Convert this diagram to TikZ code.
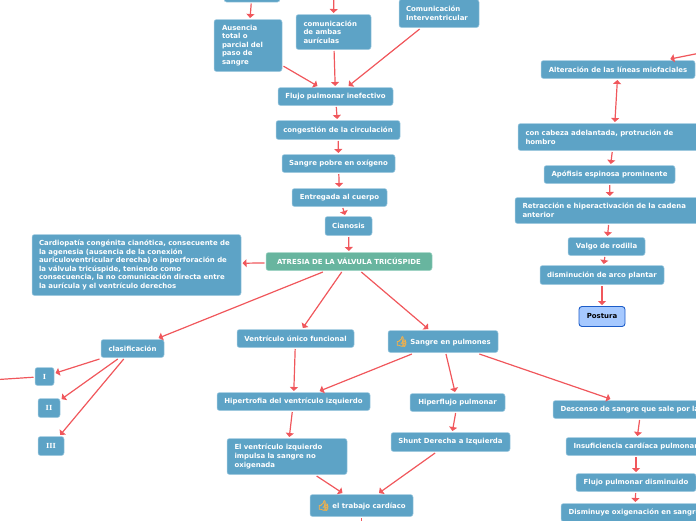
\documentclass[tikz,border=0pt]{standalone}
\usepackage{fontspec}
\setsansfont{DejaVu Sans}
\newfontfamily\emojifont[FakeBold=4]{Noto Emoji}
\newfontfamily\romfont{DejaVu Serif}
\usetikzlibrary{arrows.meta}
\definecolor{boxblue}{HTML}{5DA3C6}
\definecolor{boxedge}{HTML}{A5CDE2}
\definecolor{boxteal}{HTML}{68B59F}
\definecolor{tealedge}{HTML}{A3D6C7}
\definecolor{linkred}{HTML}{F0575C}
\definecolor{thumbcol}{HTML}{EDB04F}
\definecolor{finalblue}{HTML}{A6C9FF}
\definecolor{finaledge}{HTML}{1C5CC8}
\tikzset{
	sz/.style 2 args={minimum width=#1pt, minimum height=#2pt},
	mapbox/.style={rectangle, rounded corners=2.5pt, fill=boxblue, draw=boxedge, line width=0.5pt,
		text=white, inner sep=0pt, outer sep=1.5pt, align=left,
		font=\sffamily\bfseries\fontsize{6.95}{8.6}\selectfont},
	romanbox/.style={mapbox, font=\romfont\bfseries\fontsize{6.95}{8.6}\selectfont},
	rootbox/.style={mapbox, fill=boxteal, draw=tealedge},
	finalbox/.style={mapbox, fill=finalblue, draw=finaledge, line width=0.9pt, rounded corners=3pt, text=black},
	link/.style={draw=linkred, line width=1.2pt, -{Triangle[width=8pt,length=4pt]}},
}
\newcommand{\thumb}{{\emojifont\fontsize{10}{10}\selectfont\textcolor{thumbcol}{👍}}\ }
\begin{document}
\begin{tikzpicture}[x=1pt, y=-1pt]
	\useasboundingbox (0,0) rectangle (696,520);

	% left column, upper part
	\node[mapbox, sz={56}{18}] (top) at (252,-7) {};
	\node[mapbox, sz={68}{52}, text width=52pt] (ausencia) at (248,45.5) {Ausencia\\total o\\parcial del\\paso de\\sangre};
	\node[mapbox, sz={75}{35}, text width=60pt] (ambas) at (333.5,32) {comunicación\\de ambas\\aurículas};
	\node[mapbox, sz={80}{28}, text width=66pt] (inter) at (439,13.5) {Comunicación\\Interventricular};
	\node[mapbox, sz={115}{18}] (flujo) at (335.5,96.5) {Flujo pulmonar inefectivo};
	\node[mapbox, sz={124}{19}] (congestion) at (338,130) {congestión de la circulación};
	\node[mapbox, sz={113}{18}] (pobre) at (338.5,163.5) {Sangre pobre en oxígeno};
	\node[mapbox, sz={95}{18}] (entregada) at (339.5,197.5) {Entregada al cuerpo};
	\node[mapbox, sz={47}{19}] (cianosis) at (348.5,226) {Cianosis};
	\node[rootbox, sz={166}{18}] (atresia) at (349,261.5) {ATRESIA DE LA VÁLVULA TRICÚSPIDE};
	\node[mapbox, sz={209}{61}, text width=195pt] (cardio) at (136.5,265) {Cardiopatía congénita cianótica, consecuente de\\la agenesia (ausencia de la conexión\\auriculoventricular derecha) o imperforación de\\la válvula tricúspide, teniendo como\\consecuencia, la no comunicación directa entre\\la aurícula y el ventrículo derechos};

	% clasificacion
	\node[mapbox, sz={63}{18}] (clase) at (132.5,348.5) {clasificación};
	\node[romanbox, sz={19}{18}] (gradoa) at (44.5,376.5) {I};
	\node[romanbox, sz={22}{19}] (gradob) at (49,408) {II};
	\node[romanbox, sz={26}{19}] (gradoc) at (51,446) {III};

	% centre, lower part
	\node[mapbox, sz={117}{18}] (unico) at (295.5,338.5) {Ventrículo único funcional};
	\node[mapbox, sz={110}{22}] (pulmones) at (443,341.5) {\thumb Sangre en pulmones};
	\node[mapbox, sz={153}{18}] (hipertrofia) at (293.5,401.5) {Hipertrofia del ventrículo izquierdo};
	\node[mapbox, sz={95}{18}] (hiperflujo) at (457.5,402.5) {Hiperflujo pulmonar};
	\node[mapbox, sz={119}{19}] (shunt) at (450.5,442) {Shunt Derecha a Izquierda};
	\node[mapbox, sz={120}{36}, text width=105pt] (impulsa) at (287,456.5) {El ventrículo izquierdo\\impulsa la sangre no\\oxigenada};
	\node[mapbox, sz={103}{22}] (trabajo) at (361.5,505.5) {\thumb el trabajo cardíaco};

	% right column, upper part
	\node[mapbox, sz={154}{18}] (lineas) at (618,69.5) {Alteración de las líneas miofaciales};
	\node[mapbox, sz={192}{27}, text width=177pt] (cabeza) at (614,137) {con cabeza adelantada, protrución de\\hombro};
	\node[mapbox, sz={131}{18}] (apofisis) at (609.5,174.5) {Apófisis espinosa prominente};
	\node[mapbox, sz={190}{26}, text width=175pt] (retraccion) at (610,210.5) {Retracción e hiperactivación de la cadena\\anterior};
	\node[mapbox, sz={77}{18}] (valgo) at (606.5,246.5) {Valgo de rodilla};
	\node[mapbox, sz={124}{19}] (arco) at (602,275) {disminución de arco plantar};
	\node[finalbox, sz={46}{20}] (postura) at (602,316.5) {Postura};

	% right column, lower part
	\node[mapbox, sz={176}{18}, text width=161pt] (descenso) at (641,409.5) {Descenso de sangre que sale por la};
	\node[mapbox, sz={140}{18}, text width=125pt] (insuf) at (636,446.5) {Insuficiencia cardíaca pulmonar};
	\node[mapbox, sz={120}{18}] (disminuido) at (636,482.5) {Flujo pulmonar disminuido};
	\node[mapbox, sz={148}{18}, text width=133pt] (oxigena) at (635,512.5) {Disminuye oxigenación en sangre};

	% free ends beyond the page
	\coordinate (offtop) at (334,-30);
	\coordinate (offleft) at (-40,382);
	\coordinate (offright) at (740,45);
	\coordinate (offdown) at (361.5,550);

	\foreach \i / \j in {top/ausencia, offtop/ambas, ausencia/flujo, ambas/flujo, inter/flujo,
		flujo/congestion, congestion/pobre, pobre/entregada, entregada/cianosis, cianosis/atresia,
		atresia/cardio, atresia/clase, atresia/unico, atresia/pulmones,
		clase/gradoa, clase/gradob, clase/gradoc, gradoa/offleft,
		unico/hipertrofia, pulmones/hipertrofia, pulmones/hiperflujo, pulmones/descenso,
		hipertrofia/impulsa, hiperflujo/shunt, impulsa/trabajo, shunt/trabajo, trabajo/offdown,
		offright/lineas, cabeza/apofisis, apofisis/retraccion, retraccion/valgo, valgo/arco, arco/postura,
		descenso/insuf, insuf/disminuido, disminuido/oxigena}
	{
		\draw[link] (\i) -- (\j);
	};
	\draw[link, {Triangle[width=8pt,length=4pt]}-{Triangle[width=8pt,length=4pt]}] (lineas) -- (cabeza);
\end{tikzpicture}
\end{document}
